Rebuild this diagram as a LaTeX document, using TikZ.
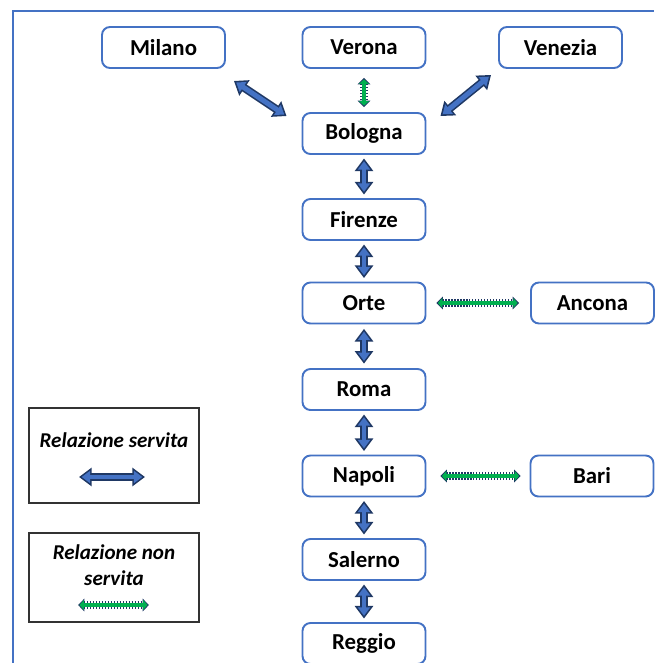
\documentclass[tikz,border=0pt]{standalone}
\usepackage{fontspec}
\setmainfont{Carlito}
\usetikzlibrary{arrows.meta}

\definecolor{boxblue}{HTML}{4472C4}
\definecolor{navy}{HTML}{1F3864}
\definecolor{railgreen}{HTML}{00B050}

\tikzset{
    city/.style={draw=boxblue, line width=1.1pt, rounded corners=4.5pt, inner sep=0pt,
        minimum width=2.46cm, minimum height=0.82cm, font=\fontsize{13}{15}\selectfont\bfseries},
    legendbox/.style={draw=black!80, line width=0.6pt, inner sep=0pt},
    legendtext/.style={align=center, font=\fontsize{12}{14.7}\selectfont\bfseries\itshape},
    served/.style={draw=boxblue, line width=2.8pt, shorten <=#1+1.56pt, shorten >=#1+1.56pt,
        {Triangle[width=6.7pt,length=4.74pt]}-{Triangle[width=6.7pt,length=4.74pt]},
        preaction={draw=navy, line width=4.6pt, shorten <=#1, shorten >=#1,
        {Triangle[width=10.2pt,length=7.2pt]}-{Triangle[width=10.2pt,length=7.2pt]}}},
    served/.default=0pt,
    notserved/.style={draw=railgreen, line width=2.8pt, shorten <=#1+0.8pt, shorten >=#1+0.8pt,
        {Triangle[width=5.4pt,length=2.5pt]}-{Triangle[width=5.4pt,length=2.5pt]},
        preaction={draw=navy, line width=4.2pt, dash pattern=on 0.7pt off 1pt, shorten <=#1, shorten >=#1,
        {Triangle[width=7pt,length=3.6pt]}-{Triangle[width=7pt,length=3.6pt]}}},
    notserved/.default=0pt
}

\begin{document}
\begin{tikzpicture}[x=0.02cm, y=-0.02cm]
    \useasboundingbox (0,0) rectangle (654,663);
    \draw[boxblue, line width=1pt] (13,663) -- (13,11) -- (654,11);

    % stations
    \node[city] at (163.5,47.5) (milano) {Milano};
    \node[city] at (364,47.5) (verona) {Verona};
    \node[city] at (560.5,47.5) (venezia) {Venezia};
    \node[city] at (364,133.5) (bologna) {Bologna};
    \node[city] at (364,219.5) (firenze) {Firenze};
    \node[city] at (364,303) (orte) {Orte};
    \node[city] at (592.5,303) (ancona) {Ancona};
    \node[city] at (364,389.5) (roma) {Roma};
    \node[city] at (364,476) (napoli) {Napoli};
    \node[city] at (592,476) (bari) {Bari};
    \node[city] at (364,559.5) (salerno) {Salerno};
    \node[city] at (364,643.5) (reggio) {Reggio};

    \path
    ([shift={(8,12)}]milano.south east) edge [served] ([shift={(-15,4)}]bologna.north west)
    ([shift={(14,4)}]bologna.north east) edge [served] ([shift={(-7,6)}]venezia.south west)
    ([shift={(0,9)}]verona.south) edge [notserved] ([shift={(0,-5)}]bologna.north)
    (bologna) edge [served=2pt] (firenze)
    (firenze) edge [served=2pt] (orte)
    (orte) edge [served=2.5pt] (roma)
    (roma) edge [served=2pt] (napoli)
    (napoli) edge [served=2pt] (salerno)
    (salerno) edge [served=2pt] (reggio)
    ([shift={(10,0)}]orte.east) edge [notserved] ([shift={(-11,0)}]ancona.west)
    ([shift={(14,0)}]napoli.east) edge [notserved] ([shift={(-9,0)}]bari.west)
    ;

    % legend
    \node[legendbox, minimum width=3.4cm, minimum height=1.9cm] at (114,455.5) (legserved) {};
    \node[legendtext] at (114,440) (txtserved) {Relazione servita};
    \coordinate (servedl) at (79,477);
    \coordinate (servedr) at (145,477);
    \path (servedl) edge [served] (servedr);

    \node[legendbox, minimum width=3.4cm, minimum height=1.78cm] at (114,577.5) (legnotserved) {};
    \node[legendtext] at (114,565) (txtnotserved) {Relazione non\\servita};
    \coordinate (notservedl) at (78,605);
    \coordinate (notservedr) at (149,605);
    \path (notservedl) edge [notserved] (notservedr);
\end{tikzpicture}
\end{document}
